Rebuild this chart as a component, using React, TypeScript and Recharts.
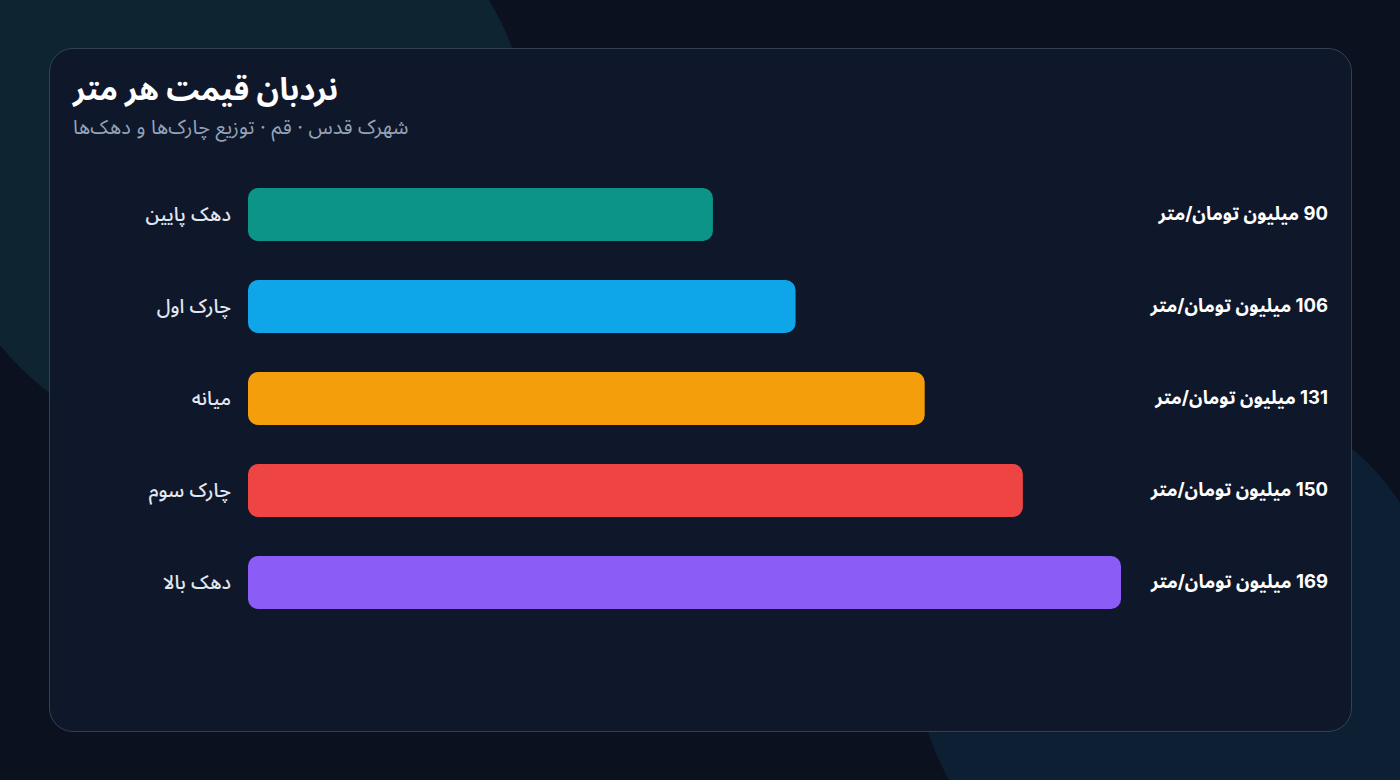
import { Bar, BarChart, Cell, XAxis, YAxis } from "recharts"

// price ladder, per square metre (million toman)
const tiers = ["دهک پایین", "چارک اول", "میانه", "چارک سوم", "دهک بالا"]
const prices = [90, 106, 131, 150, 169]
const tierColors = ["#0d9488", "#0ea5e9", "#f59e0b", "#ef4444", "#8b5cf6"]
const unit = "میلیون تومان/متر"

const data = tiers.map((name, i) => ({ name, price: prices[i] }))

const font = "Inter, 'Noto Sans Arabic', sans-serif"

function TierTick(props: any) {
  const { x, y, payload } = props
  return (
    <text
      x={x}
      y={y}
      dy="0.35em"
      direction="rtl"
      textAnchor="start"
      fill="#e2e8f0"
      fontSize={19.5}
      fontWeight={500}
      fontFamily={font}
    >
      {payload.value}
    </text>
  )
}

function PriceTick(props: any) {
  const { x, y, payload } = props
  const i = tiers.indexOf(payload.value)
  return (
    <text
      x={x}
      y={y}
      dy="0.35em"
      direction="rtl"
      textAnchor="start"
      fill="#ffffff"
      fontSize={18.5}
      fontWeight={700}
      fontFamily={font}
    >
      {`${prices[i]} ${unit}`}
    </text>
  )
}

export default function App() {
  return (
    <div
      style={{
        position: "fixed",
        left: 0,
        top: 0,
        width: 1400,
        height: 780,
        overflow: "hidden",
        background: "#0b111e",
        fontFamily: font,
      }}
    >
      <div
        style={{
          position: "absolute",
          left: 232 - 300,
          top: 155 - 300,
          width: 600,
          height: 600,
          borderRadius: "50%",
          background: "#0e2430",
        }}
      />
      <div
        style={{
          position: "absolute",
          left: 1180 - 265,
          top: 650 - 265,
          width: 530,
          height: 530,
          borderRadius: "50%",
          background: "#0c1f33",
        }}
      />
      <div
        style={{
          position: "absolute",
          left: 49,
          top: 48,
          width: 1301,
          height: 682,
          background: "#0f172a",
          border: "1px solid #334155",
          borderRadius: 24,
        }}
      >
        <div
          style={{
            position: "absolute",
            left: 23,
            top: 20,
            direction: "rtl",
            color: "#ffffff",
            fontSize: 31,
            fontWeight: 700,
            lineHeight: "40px",
          }}
        >
          نردبان قیمت هر متر
        </div>
        <div
          style={{
            position: "absolute",
            left: 23,
            top: 66,
            direction: "rtl",
            color: "#94a3b8",
            fontSize: 20,
            lineHeight: "24px",
          }}
        >
          شهرک قدس · قم · توزیع چارک‌ها و دهک‌ها
        </div>
        <div style={{ position: "absolute", left: -1, top: -1 }}>
          <BarChart
            width={1303}
            height={684}
            data={data}
            layout="vertical"
            margin={{ top: 120, right: 24, bottom: 104, left: 99 }}
          >
            <XAxis type="number" domain={[0, 169]} hide />
            <YAxis
              type="category"
              dataKey="name"
              width={100}
              axisLine={false}
              tickLine={false}
              tickSize={0}
              tickMargin={17}
              tick={<TierTick />}
            />
            <YAxis
              yAxisId="right"
              type="category"
              dataKey="name"
              orientation="right"
              width={207}
              axisLine={false}
              tickLine={false}
              tickSize={0}
              tickMargin={207}
              tick={<PriceTick />}
            />
            <Bar dataKey="price" barSize={53} radius={10} isAnimationActive={false}>
              {data.map((d, i) => (
                <Cell key={d.name} fill={tierColors[i]} />
              ))}
            </Bar>
          </BarChart>
        </div>
      </div>
    </div>
  )
}
